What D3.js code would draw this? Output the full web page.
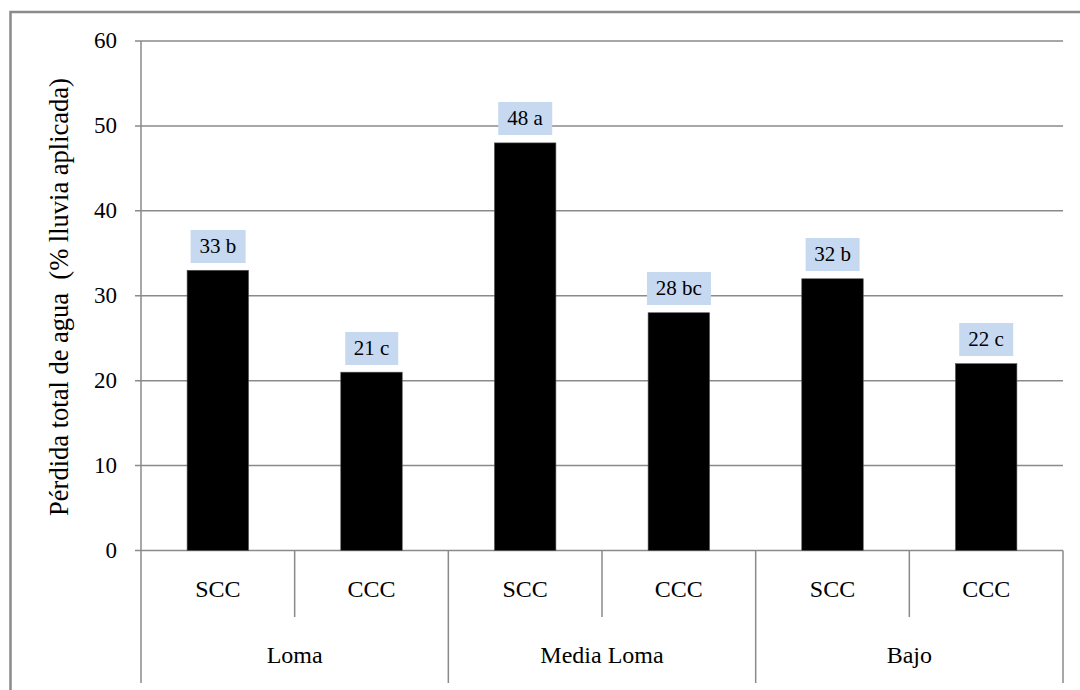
<!DOCTYPE html>
<html>
<head>
<meta charset="utf-8">
<script src="https://cdn.jsdelivr.net/npm/d3@7"></script>
<style>
html,body{margin:0;padding:0;background:#fff;}
#wrap{position:relative;width:1080px;height:690px;overflow:hidden;}
#chart{position:absolute;left:0;top:0;display:block;}
#labels{position:absolute;left:0;top:0;width:1080px;height:690px;}
#labels div{position:absolute;color:#000;white-space:pre;}
</style>
</head>
<body>
<div id="wrap">
<svg id="chart" width="1080" height="690"></svg>
<div id="labels"></div>
</div>
<script>
const groups = ["Loma", "Media Loma", "Bajo"];
const treatments = ["SCC", "CCC"];
const values = [33, 21, 48, 28, 32, 22];
const letters = ["b", "c", "a", "bc", "b", "c"];
const yTicks = [0, 10, 20, 30, 40, 50, 60];
const yTitle = "Pérdida total de agua  (% lluvia aplicada)";

(function () {
const FONT = '"Liberation Serif", "Tinos", "Times New Roman"';
const data = [];
groups.forEach((g, gi) => treatments.forEach((t, ti) => {
  const i = gi * treatments.length + ti;
  data.push({group: g, treat: t, value: values[i], label: values[i] + " " + letters[i]});
}));

const svg = d3.select("#chart");
const layer = d3.select("#labels");
const pLeft = 141, pRight = 1063, pTop = 41, pBottom = 550.5;
const subBottom = 617, groupBottom = 683;
const gridColor = "#8a8a8a";
const ASC = 0.8375;

svg.append("rect").attr("x", 10.5).attr("y", 12).attr("width", 1100).attr("height", 720)
  .attr("fill", "none").attr("stroke", "#8a8a8a").attr("stroke-width", 2.5);

const y = d3.scaleLinear().domain([0, 60]).range([pBottom, pTop]);
const x0 = d3.scaleBand().domain(groups).range([pLeft, pRight]).padding(0);
const x1 = d3.scaleBand().domain(treatments).range([0, x0.bandwidth()]).paddingInner(0.6).paddingOuter(0.3);
const slot = x0.bandwidth() / treatments.length;

svg.append("g").selectAll("line").data(yTicks).join("line")
  .attr("x1", pLeft - 6).attr("x2", pRight)
  .attr("y1", d => y(d)).attr("y2", d => y(d))
  .attr("stroke", gridColor).attr("stroke-width", 1.5);

svg.append("line").attr("x1", pLeft).attr("x2", pLeft).attr("y1", pTop).attr("y2", groupBottom)
  .attr("stroke", gridColor).attr("stroke-width", 1.5);

svg.append("g").selectAll("line").data(groups.map((g, i) => i + 1)).join("line")
  .attr("x1", i => pLeft + i * x0.bandwidth()).attr("x2", i => pLeft + i * x0.bandwidth())
  .attr("y1", pBottom).attr("y2", groupBottom)
  .attr("stroke", gridColor).attr("stroke-width", 1.5);
svg.append("g").selectAll("line").data(groups).join("line")
  .attr("x1", g => x0(g) + slot).attr("x2", g => x0(g) + slot)
  .attr("y1", pBottom).attr("y2", subBottom)
  .attr("stroke", gridColor).attr("stroke-width", 1.5);

svg.append("g").selectAll("rect").data(data).join("rect")
  .attr("x", d => x0(d.group) + x1(d.treat))
  .attr("width", x1.bandwidth())
  .attr("y", d => y(d.value))
  .attr("height", d => y(0) - y(d.value))
  .attr("fill", "#000").attr("stroke", "#555").attr("stroke-width", 0.6);

const tickSize = 23;
layer.selectAll("div.tick").data(yTicks).join("div").attr("class", "tick")
  .style("font-family", FONT)
  .style("font-size", tickSize + "px").style("line-height", tickSize + "px")
  .style("left", "117px")
  .style("top", d => (y(d) + 0.33 * tickSize - ASC * tickSize) + "px")
  .style("transform", "translateX(-100%)")
  .text(d => d3.format("d")(d));

const vSize = 21;
layer.selectAll("div.val").data(data).join("div").attr("class", "val")
  .style("font-family", FONT)
  .style("font-size", vSize + "px").style("line-height", "33px").style("height", "33px")
  .style("padding", "0 9px").style("background", "#c6d9f1")
  .style("left", d => (x0(d.group) + x1(d.treat) + x1.bandwidth() / 2) + "px")
  .style("top", d => (y(d.value) - 7.5 - 33) + "px")
  .style("transform", "translateX(-50%)")
  .text(d => d.label);

const cSize = 24;
layer.selectAll("div.treat").data(data).join("div").attr("class", "treat")
  .style("font-family", FONT)
  .style("font-size", cSize + "px").style("line-height", cSize + "px")
  .style("left", d => (x0(d.group) + x1(d.treat) + x1.bandwidth() / 2) + "px")
  .style("top", (597 - ASC * cSize) + "px")
  .style("transform", "translateX(-50%)")
  .text(d => d.treat);

layer.selectAll("div.grp").data(groups).join("div").attr("class", "grp")
  .style("font-family", FONT)
  .style("font-size", cSize + "px").style("line-height", cSize + "px")
  .style("left", g => (x0(g) + x0.bandwidth() / 2) + "px")
  .style("top", (663 - ASC * cSize) + "px")
  .style("transform", "translateX(-50%)")
  .text(g => g);

const tSize = 26.5;
layer.append("div").attr("class", "ytitle")
  .style("font-family", FONT)
  .style("font-size", tSize + "px").style("line-height", tSize + "px")
  .style("left", (68 - (ASC - 0.5) * tSize) + "px")
  .style("top", "297px")
  .style("transform", "translate(-50%,-50%) rotate(-90deg)")
  .text(yTitle);
})();
</script>
</body>
</html>
